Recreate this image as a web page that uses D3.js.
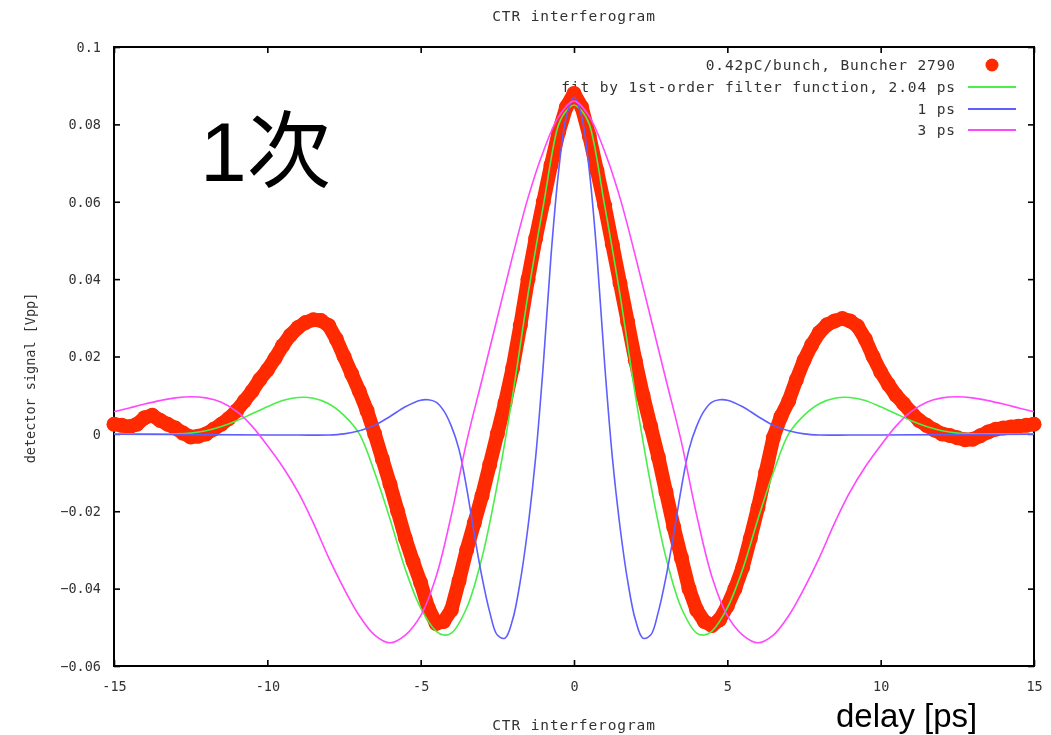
<!DOCTYPE html>
<html><head><meta charset="utf-8">
<script src="https://cdn.jsdelivr.net/npm/d3@7"></script>
<style>html,body{margin:0;padding:0;background:#fff;}svg{display:block}</style>
</head><body>
<svg id="chart" width="1051" height="735"></svg>
<script>
// Axis ticks
const xTicks = [-15, -10, -5, 0, 5, 10, 15];
const yTicks = [-0.06, -0.04, -0.02, 0, 0.02, 0.04, 0.06, 0.08, 0.1];

// Legend entries and colours
const seriesNames = ["0.42pC/bunch, Buncher 2790", "fit by 1st-order filter function, 2.04 ps", "1 ps", "3 ps"];
const seriesColors = ["#ff2a00", "#4aee4a", "#5e5eff", "#ff48ff"];

// Measured interferogram: [delay ps, signal Vpp]
const measured = [
  [-15,0.0025],[-14.75,0.0022],[-14.5,0.0018],[-14.25,0.0025],[-14,0.0042],[-13.75,0.0048],
  [-13.5,0.0035],[-13.25,0.0025],[-13,0.0015],[-12.75,0.0002],[-12.5,-0.0008],[-12.25,-0.0006],
  [-12,0.0000],[-11.75,0.0012],[-11.5,0.0025],[-11.25,0.0040],[-11,0.0060],[-10.75,0.0085],
  [-10.5,0.0110],[-10.25,0.0140],[-10,0.0165],[-9.75,0.0195],[-9.5,0.0228],[-9.25,0.0255],
  [-9,0.0275],[-8.75,0.0288],[-8.5,0.0295],[-8.25,0.0293],[-8,0.0280],[-7.75,0.0245],
  [-7.5,0.0200],[-7.25,0.0155],[-7,0.0110],[-6.75,0.0060],[-6.5,0.0000],[-6.25,-0.0065],
  [-6,-0.0130],[-5.75,-0.0200],[-5.5,-0.0270],[-5.25,-0.0330],[-5,-0.0385],[-4.75,-0.0450],
  [-4.5,-0.0490],[-4.25,-0.0485],[-4,-0.0455],[-3.75,-0.0380],[-3.5,-0.0300],[-3.25,-0.0230],
  [-3,-0.0160],[-2.75,-0.0080],[-2.5,0.0000],[-2.25,0.0080],[-2,0.0170],[-1.75,0.0280],
  [-1.5,0.0400],[-1.25,0.0505],[-1,0.0600],[-0.75,0.0695],[-0.5,0.0780],[-0.25,0.0845],
  [0,0.0880],[0.25,0.0845],[0.5,0.0770],[0.75,0.0680],[1,0.0590],[1.25,0.0490],
  [1.5,0.0390],[1.75,0.0290],[2,0.0190],[2.25,0.0100],[2.5,0.0020],[2.75,-0.0060],
  [3,-0.0150],[3.25,-0.0240],[3.5,-0.0320],[3.75,-0.0400],[4,-0.0455],[4.25,-0.0485],
  [4.5,-0.0495],[4.75,-0.0480],[5,-0.0445],[5.25,-0.0400],[5.5,-0.0345],[5.75,-0.0270],
  [6,-0.0190],[6.25,-0.0100],[6.5,-0.0010],[6.75,0.0045],[7,0.0085],[7.25,0.0140],
  [7.5,0.0190],[7.75,0.0230],[8,0.0262],[8.25,0.0282],[8.5,0.0292],[8.75,0.0298],
  [9,0.0292],[9.25,0.0278],[9.5,0.0245],[9.75,0.0200],[10,0.0160],[10.25,0.0128],
  [10.5,0.0100],[10.75,0.0078],[11,0.0055],[11.25,0.0035],[11.5,0.0022],[11.75,0.0010],
  [12,0.0000],[12.25,-0.0004],[12.5,-0.0010],[12.75,-0.0015],[13,-0.0014],[13.25,-0.0005],
  [13.5,0.0005],[13.75,0.0012],[14,0.0015],[14.25,0.0018],[14.5,0.0020],[14.75,0.0022],[15,0.0025]
];

// Fit by 1st-order filter function, 2.04 ps
const fit204 = [
  [-15,0.0],[-14,0.0],[-13,0.0],[-12.5,0.0002],[-12,0.0008],[-11.5,0.0019],[-11,0.0034],
  [-10.5,0.0052],[-10,0.0070],[-9.5,0.0086],[-9,0.0094],[-8.5,0.0092],[-8,0.0078],[-7.5,0.0048],
  [-7,0.0],[-6.5,-0.010],[-6,-0.022],[-5.5,-0.035],[-5,-0.045],[-4.5,-0.051],[-4.25,-0.052],
  [-4,-0.0515],[-3.5,-0.045],[-3,-0.032],[-2.5,-0.013],[-2,0.010],[-1.5,0.036],[-1,0.059],
  [-0.5,0.080],[-0.25,0.0835],[0,0.085],[0.25,0.0835],[0.5,0.080],[1,0.059],[1.5,0.036],
  [2,0.010],[2.5,-0.013],[3,-0.032],[3.5,-0.045],[4,-0.0515],[4.25,-0.052],[4.5,-0.051],
  [5,-0.045],[5.5,-0.035],[6,-0.022],[6.5,-0.010],[7,0.0],[7.5,0.0048],[8,0.0078],[8.5,0.0092],
  [9,0.0094],[9.5,0.0086],[10,0.0070],[10.5,0.0052],[11,0.0034],[11.5,0.0019],[12,0.0008],
  [12.5,0.0002],[13,0.0],[14,0.0],[15,0.0]
];

// Same filter with 1 ps
const fit1 = [
  [-15,-0.0001],[-12,-0.0002],[-10,-0.0003],[-9,-0.0003],[-8,-0.0003],[-7.5,0.0],[-7,0.0008],
  [-6.5,0.0022],[-6,0.0045],[-5.5,0.0070],[-5,0.0087],[-4.75,0.0088],[-4.5,0.0082],[-4.25,0.006],
  [-4,0.002],[-3.75,-0.004],[-3.5,-0.014],[-3.25,-0.026],[-3,-0.037],[-2.75,-0.046],[-2.5,-0.052],
  [-2.25,-0.0528],[-2,-0.048],[-1.75,-0.038],[-1.5,-0.024],[-1.25,-0.006],[-1,0.018],[-0.75,0.046],
  [-0.5,0.068],[-0.25,0.082],[0,0.087],[0.25,0.082],[0.5,0.068],[0.75,0.046],[1,0.018],
  [1.25,-0.006],[1.5,-0.024],[1.75,-0.038],[2,-0.048],[2.25,-0.0528],[2.5,-0.052],[2.75,-0.046],
  [3,-0.037],[3.25,-0.026],[3.5,-0.014],[3.75,-0.004],[4,0.002],[4.25,0.006],[4.5,0.0082],
  [4.75,0.0088],[5,0.0087],[5.5,0.0070],[6,0.0045],[6.5,0.0022],[7,0.0008],[7.5,0.0],
  [8,-0.0003],[9,-0.0003],[10,-0.0003],[12,-0.0002],[15,-0.0001]
];

// Same filter with 3 ps
const fit3 = [
  [-15,0.0057],[-14.5,0.0067],[-14,0.0077],[-13.5,0.0086],[-13,0.0093],[-12.5,0.0096],[-12,0.0093],
  [-11.5,0.0082],[-11,0.0058],[-10.5,0.0020],[-10,-0.003],[-9.5,-0.0085],[-9,-0.015],[-8.5,-0.023],
  [-8,-0.032],[-7.5,-0.040],[-7,-0.047],[-6.5,-0.052],[-6,-0.054],[-5.5,-0.052],[-5,-0.047],
  [-4.5,-0.037],[-4,-0.021],[-3.5,-0.002],[-3,0.014],[-2.5,0.030],[-2,0.046],[-1.5,0.061],
  [-1,0.073],[-0.5,0.082],[0,0.086],[0.5,0.082],[1,0.073],[1.5,0.061],[2,0.046],[2.5,0.030],
  [3,0.014],[3.5,-0.002],[4,-0.021],[4.5,-0.037],[5,-0.047],[5.5,-0.052],[6,-0.054],[6.5,-0.052],
  [7,-0.047],[7.5,-0.040],[8,-0.032],[8.5,-0.023],[9,-0.015],[9.5,-0.0085],[10,-0.003],[10.5,0.0020],
  [11,0.0058],[11.5,0.0082],[12,0.0093],[12.5,0.0096],[13,0.0093],[13.5,0.0086],[14,0.0077],
  [14.5,0.0067],[15,0.0057]
];

const svg = d3.select("#chart");
const plot = { left: 114, right: 1034, top: 47, bottom: 666 };
const x = d3.scaleLinear().domain([-15, 15]).range([plot.left, plot.right]);
const y = d3.scaleLinear().domain([-0.06, 0.1]).range([plot.bottom, plot.top]);

// soft rendering of the gnuplot output
const defs = svg.append("defs");
defs.append("filter").attr("id", "soft")
  .append("feGaussianBlur").attr("stdDeviation", 0.55);

const g = svg.append("g").attr("filter", "url(#soft)");
const mono = "'DejaVu Sans Mono', 'Liberation Mono', monospace";

// Axes with inward ticks on all four sides
const fmtY = v => v === 0 ? "0" : String(+v.toFixed(2)).replace("-", "\u2212");
const fmtX = v => String(v);

const axisL = g.append("g").attr("transform", `translate(${plot.left},0)`)
  .call(d3.axisLeft(y).tickValues(yTicks).tickSizeInner(-6).tickSizeOuter(0).tickPadding(13).tickFormat(fmtY));
const axisR = g.append("g").attr("transform", `translate(${plot.right},0)`)
  .call(d3.axisRight(y).tickValues(yTicks).tickSizeInner(-6).tickSizeOuter(0).tickFormat(""));
const axisB = g.append("g").attr("transform", `translate(0,${plot.bottom})`)
  .call(d3.axisBottom(x).tickValues(xTicks).tickSizeInner(-6).tickSizeOuter(0).tickPadding(15).tickFormat(fmtX));
const axisT = g.append("g").attr("transform", `translate(0,${plot.top})`)
  .call(d3.axisTop(x).tickValues(xTicks).tickSizeInner(-6).tickSizeOuter(0).tickFormat(""));

[axisL, axisR, axisB, axisT].forEach(a => {
  a.select(".domain").remove();
  a.selectAll(".tick line").attr("stroke", "#000").attr("stroke-width", 1.6);
  a.selectAll(".tick text").attr("font-family", mono).attr("font-size", 13.5).attr("fill", "#333");
});

// Frame
g.append("rect")
  .attr("x", plot.left).attr("y", plot.top)
  .attr("width", plot.right - plot.left).attr("height", plot.bottom - plot.top)
  .attr("fill", "none").attr("stroke", "#000").attr("stroke-width", 2);

// Title, axis labels
g.append("text").attr("x", 574).attr("y", 21).attr("text-anchor", "middle")
  .attr("font-family", mono).attr("font-size", 14.5).attr("letter-spacing", 0.9).attr("fill", "#333")
  .text("CTR interferogram");
g.append("text").attr("x", 574).attr("y", 730).attr("text-anchor", "middle")
  .attr("font-family", mono).attr("font-size", 14.5).attr("letter-spacing", 0.9).attr("fill", "#333")
  .text("CTR interferogram");
g.append("text").attr("transform", "translate(35,378) rotate(-90)").attr("text-anchor", "middle")
  .attr("font-family", mono).attr("font-size", 13.5).attr("fill", "#333")
  .text("detector signal [Vpp]");

// Legend
const legendRows = [65, 87, 109, 130];
const legend = g.append("g");
seriesNames.forEach((name, i) => {
  legend.append("text").attr("x", 956).attr("y", legendRows[i] + 5).attr("text-anchor", "end")
    .attr("font-family", mono).attr("font-size", 14.5).attr("letter-spacing", 0.9).attr("fill", "#333")
    .text(name);
  if (i === 0) {
    legend.append("circle").attr("cx", 992).attr("cy", legendRows[i]).attr("r", 6.5).attr("fill", seriesColors[0]);
  } else {
    legend.append("line").attr("x1", 968).attr("x2", 1016).attr("y1", legendRows[i]).attr("y2", legendRows[i])
      .attr("stroke", seriesColors[i]).attr("stroke-width", 1.8);
  }
});

// Measured points as a thick band of dots
const band = d3.line().x(d => x(d[0])).y(d => y(d[1])).curve(d3.curveLinear);
g.append("path").datum(measured).attr("d", band)
  .attr("fill", "none").attr("stroke", seriesColors[0]).attr("stroke-width", 14)
  .attr("stroke-linejoin", "round").attr("stroke-linecap", "round");
g.append("g").selectAll("circle").data(measured).join("circle")
  .attr("cx", d => x(d[0])).attr("cy", d => y(d[1])).attr("r", 7.5)
  .attr("fill", seriesColors[0]);

// Fit curves
const smooth = d3.line().x(d => x(d[0])).y(d => y(d[1])).curve(d3.curveCatmullRom.alpha(0.5));
[fit204, fit1, fit3].forEach((data, i) => {
  g.append("path").datum(data).attr("d", smooth)
    .attr("fill", "none").attr("stroke", seriesColors[i + 1]).attr("stroke-width", 1.6);
});

// Annotations
svg.append("text").attr("x", 200).attr("y", 181)
  .attr("font-family", "'Liberation Sans', 'Noto Sans CJK JP', sans-serif").attr("font-size", 84).attr("fill", "#000")
  .text("1次");
svg.append("text").attr("x", 836).attr("y", 727)
  .attr("font-family", "'Liberation Sans', Arial, sans-serif").attr("font-size", 33).attr("fill", "#000")
  .text("delay [ps]");
</script>
</body></html>
